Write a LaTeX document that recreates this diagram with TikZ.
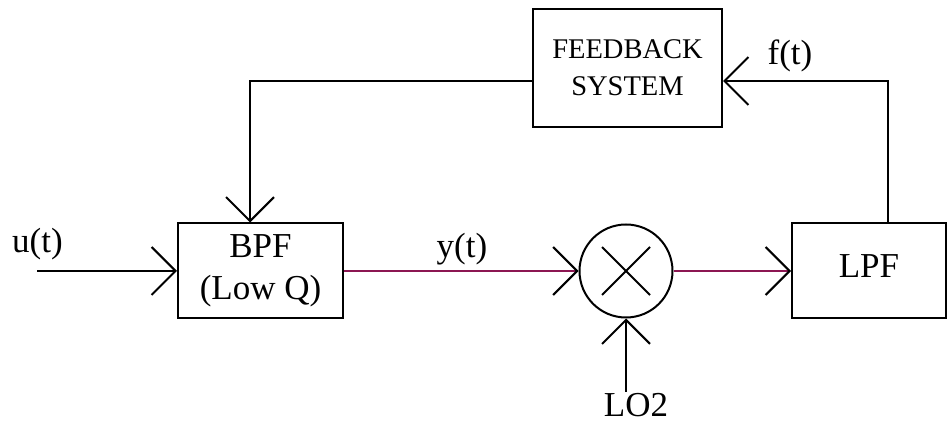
\documentclass[tikz,border=0pt]{standalone}
\usepackage{fontspec}
\setmainfont{Liberation Serif}
\usetikzlibrary{arrows.meta}
\definecolor{sigline}{RGB}{140,22,82}
\tikzset{
  blk/.style={draw, line width=2pt, inner sep=0pt, align=center,
    font=\fontsize{35}{42}\selectfont},
  fbblk/.style={blk, font=\fontsize{28.5}{37}\selectfont},
  lbl/.style={font=\fontsize{35}{42}\selectfont, anchor=base, inner sep=0pt},
  barb/.tip={Straight Barb[length=24pt, width=48pt, color=black, line width=2pt]},
  wire/.style={line width=2pt, -barb},
  mwire/.style={line width=2.6pt, draw=sigline, -barb},
  plainwire/.style={line width=2pt}
}
\begin{document}
\begin{tikzpicture}[x=1pt, y=1pt]
  \useasboundingbox (0,0) rectangle (948,423);

  % blocks
  \node[blk, minimum width=165pt, minimum height=95pt] (bpf) at (260.5,152) {BPF\\(Low Q)};
  \node[draw, circle, line width=2pt, minimum size=93pt, inner sep=0pt] (mix) at (626,152) {};
  \node[blk, minimum width=154pt, minimum height=95pt, text depth=10pt] (lpf) at (869,152) {LPF};
  \node[fbblk, minimum width=189pt, minimum height=118pt] (fb) at (627.5,355) {FEEDBACK\\SYSTEM};

  % multiplier cross
  \draw[plainwire] (mix.center) ++(-24,-24) -- ++(48,48);
  \draw[plainwire] (mix.center) ++(-24,24) -- ++(48,-48);

  % helper points
  \coordinate (uin) at (37,152);
  \coordinate (lo) at (626,31);
  \coordinate (fbk) at (888,342);
  \coordinate (fbo) at (250,342);

  % signal path
  \draw[wire] (uin) -- (bpf.west);
  \draw[mwire] (bpf.east) -- (mix.west);
  \draw[mwire] (mix.east) -- (lpf.west);
  \draw[wire] (lo) -- (mix.south);

  % feedback loop
  \draw[wire] (lpf.north -| fbk) |- (fb.east |- fbk);
  \draw[wire] (fb.west |- fbk) -| (bpf.north -| fbo);

  % labels
  \node[lbl] (ulbl) at (37.5,170) {u(t)};
  \node[lbl] (ylbl) at (462,165) {y(t)};
  \node[lbl] (flbl) at (790,358) {f(t)};
  \node[lbl] (lolbl) at (636,6) {LO2};
\end{tikzpicture}
\end{document}
